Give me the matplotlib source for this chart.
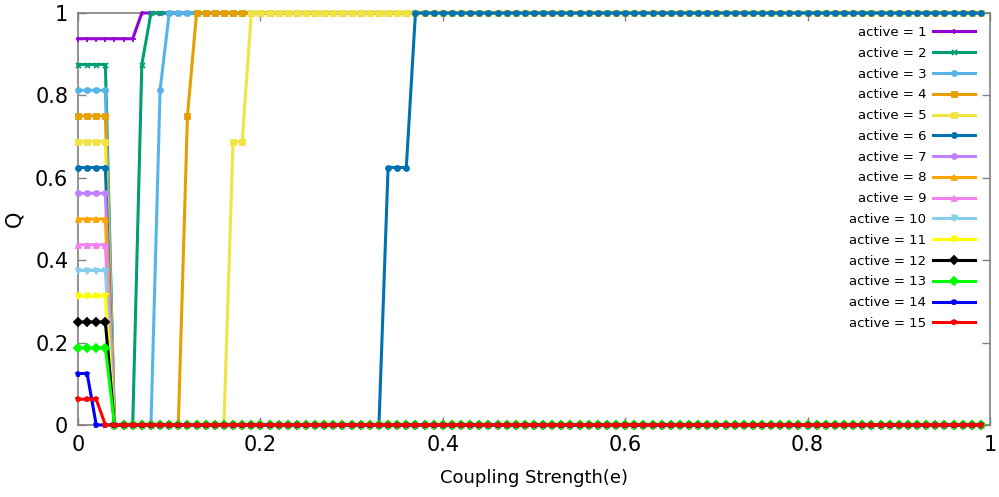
import numpy as np
import matplotlib
matplotlib.use("Agg")
import matplotlib.pyplot as plt
from matplotlib.ticker import FuncFormatter

# acoplamento e de 0 a 0.99, passo 0.01
coupling = np.round(np.arange(100) * 0.01, 2)

# cada série em trechos (valor de Q, número de pontos)
q_active = {
    1: [(0.9375, 7), (1.0, 93)],
    2: [(0.875, 4), (0.0, 3), (0.875, 1), (1.0, 92)],
    3: [(0.8125, 4), (0.0, 5), (0.8125, 1), (1.0, 90)],
    4: [(0.75, 4), (0.0, 8), (0.75, 1), (1.0, 87)],
    5: [(0.6875, 4), (0.0, 13), (0.6875, 2), (1.0, 81)],
    6: [(0.625, 4), (0.0, 30), (0.625, 3), (1.0, 63)],
    7: [(0.5625, 4), (0.0, 96)],
    8: [(0.5, 4), (0.0, 96)],
    9: [(0.4375, 4), (0.0, 96)],
    10: [(0.375, 4), (0.0, 96)],
    11: [(0.3125, 4), (0.0, 96)],
    12: [(0.25, 4), (0.0, 96)],
    13: [(0.1875, 4), (0.0, 96)],
    14: [(0.125, 2), (0.0, 98)],
    15: [(0.0625, 3), (0.0, 97)],
}

cores = ["#9400d3", "#009e73", "#56b4e9", "#e69f00", "#f0e442", "#0072b2",
         "#c080ff", "#ffa500", "#ee82ee", "#87ceeb", "#ffff00", "#000000",
         "#00ff00", "#0000ff", "#ff0000"]
marcadores = ["+", "x", "o", "s", "s", "o", "o", "^", "^", "v", "v",
              "D", "D", "p", "p"]

plt.rcParams["font.family"] = "DejaVu Sans"

fig = plt.figure(figsize=(9.99, 4.97), dpi=100)
ax = fig.add_axes([78 / 999, 1 - 425 / 497, 912 / 999, 412 / 497])

for i, (k, trechos) in enumerate(q_active.items()):
    valores = np.concatenate([np.full(n, v) for v, n in trechos])
    ax.plot(coupling, valores, color=cores[i], lw=2.2, marker=marcadores[i],
            ms=3.6, mew=1.3, clip_on=False, label=f"active = {k}", zorder=3 + i)

ax.set_xlim(0, 1)
ax.set_ylim(0, 1)
ax.set_xticks(np.arange(0, 1.01, 0.2))
ax.set_yticks(np.arange(0, 1.01, 0.2))
fmt = FuncFormatter(lambda v, p: f"{v:g}")
ax.xaxis.set_major_formatter(fmt)
ax.yaxis.set_major_formatter(fmt)
ax.tick_params(direction="in", length=6, width=1, color="#808080",
               top=True, right=True, labelsize=15, pad=7)
for s in ax.spines.values():
    s.set_color("#808080")
    s.set_linewidth(1.2)

ax.set_xlabel("Coupling Strength(e)", fontsize=13, labelpad=10)
ax.set_ylabel("Q", fontsize=15, labelpad=8)

leg = ax.legend(loc="upper right", bbox_to_anchor=(975 / 999, 1 - 26 / 497),
                bbox_transform=fig.transFigure, frameon=False, markerfirst=False,
                fontsize=9.5, handlelength=3.2, handletextpad=0.5,
                labelspacing=0.59, borderpad=0, borderaxespad=0)
# texto alinhado à direita, junto da amostra de linha
for col in leg._legend_handle_box.get_children():
    col.align = "right"

fig.savefig("out.png", dpi=100)
